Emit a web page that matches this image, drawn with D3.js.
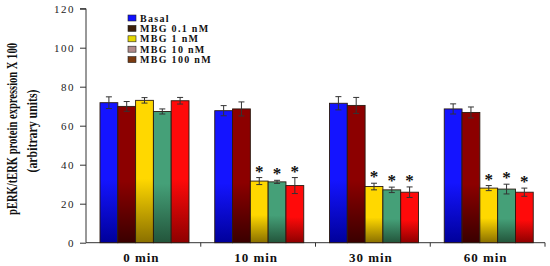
<!DOCTYPE html>
<html>
<head>
<meta charset="utf-8">
<script src="https://cdn.jsdelivr.net/npm/d3@7"></script>
<style>
  body { margin: 0; background: #fff; }
  svg { display: block; }
</style>
</head>
<body>
<svg id="chart"></svg>
<script>
// data
const groups = ['0 min', '10 min', '30 min', '60 min'];
const series = ['Basal', 'MBG 0.1 nM', 'MBG 1 nM', 'MBG 10 nM', 'MBG 100 nM'];
const basal   = [71.8, 67.7, 71.5, 68.6];
const mbg01   = [69.9, 68.6, 70.4, 66.8];
const mbg1    = [73.0, 31.6, 28.8, 28.0];
const mbg10   = [67.3, 31.2, 27.1, 27.5];
const mbg100  = [72.8, 29.3, 25.9, 25.9];
const errBasal  = [3.0, 2.6, 3.4, 2.6];
const errMbg01  = [2.5, 3.6, 4.1, 2.8];
const errMbg1   = [1.4, 1.8, 1.7, 1.3];
const errMbg10  = [1.3, 0.8, 1.4, 2.5];
const errMbg100 = [1.7, 4.1, 2.7, 2.1];
const significant = [
  [false, false, false, false, false],
  [false, false, true, true, true],
  [false, false, true, true, true],
  [false, false, true, true, true]
];
const yTicks = [0, 20, 40, 60, 80, 100, 120];

const values = [basal, mbg01, mbg1, mbg10, mbg100];
const errors = [errBasal, errMbg01, errMbg1, errMbg10, errMbg100];

const width = 550, height = 266;
const svg = d3.select('#chart').attr('width', width).attr('height', height);

// gradients for the bar fills
const barGrad = [
  ['#1414ff', '#00009a'],
  ['#8c0000', '#3a0000'],
  ['#ffd800', '#8a7000'],
  ['#45a078', '#23553b'],
  ['#ff0a0a', '#8e0000']
];
const legendColor = ['#1010ff', '#3b1e08', '#e4d600', '#b08a8a', '#7a3a10'];

const defs = svg.append('defs');
barGrad.forEach((c, i) => {
  const g = defs.append('linearGradient')
    .attr('id', 'grad' + i)
    .attr('x1', 0).attr('y1', 0).attr('x2', 0).attr('y2', 1);
  g.append('stop').attr('offset', '0%').attr('stop-color', c[0]);
  g.append('stop').attr('offset', '55%').attr('stop-color', c[0]);
  g.append('stop').attr('offset', '100%').attr('stop-color', c[1]);
});

const yScale = d3.scaleLinear().domain([0, 120]).range([242.7, 8.7]);
const x0 = d3.scaleBand().domain(groups).range([86, 545]);
const x1 = d3.scaleBand().domain(series).range([14, 103]);

// y axis
const yAxis = d3.axisLeft(yScale).tickValues(yTicks).tickSize(6).tickPadding(5);
const yAxisG = svg.append('g')
  .attr('transform', 'translate(86,0)')
  .call(yAxis);
yAxisG.select('.domain').attr('stroke', '#333').attr('d', `M-6,${yScale(120)}H0V${yScale(0)}`);
yAxisG.selectAll('.tick line').attr('stroke', '#333');
yAxisG.selectAll('.tick text')
  .attr('font-family', 'Liberation Serif, serif')
  .attr('font-size', 11)
  .attr('letter-spacing', 1.5)
  .attr('fill', '#222');

// x axis
const xAxisG = svg.append('g').attr('transform', `translate(0,${yScale(0)})`);
xAxisG.append('line')
  .attr('x1', 86).attr('x2', 545)
  .attr('stroke', '#333');
xAxisG.selectAll('.gtick')
  .data(groups)
  .join('line')
  .attr('class', 'gtick')
  .attr('x1', d => x0(d) + x0.bandwidth())
  .attr('x2', d => x0(d) + x0.bandwidth())
  .attr('y1', 0).attr('y2', 4)
  .attr('stroke', '#333');
xAxisG.selectAll('.glabel')
  .data(groups)
  .join('text')
  .attr('class', 'glabel')
  .attr('x', d => x0(d) + x0.bandwidth() / 2 - 2)
  .attr('y', 19)
  .attr('text-anchor', 'middle')
  .attr('font-family', 'Liberation Serif, serif')
  .attr('font-weight', 'bold')
  .attr('font-size', 13)
  .attr('letter-spacing', 1)
  .attr('fill', '#111')
  .text(d => d);

// bars
const flat = [];
groups.forEach((g, gi) => {
  series.forEach((s, si) => {
    flat.push({g, s, si, v: values[si][gi], e: errors[si][gi], sig: significant[gi][si]});
  });
});

const chart = svg.append('g');
chart.selectAll('.bar')
  .data(flat)
  .join('rect')
  .attr('class', 'bar')
  .attr('x', d => x0(d.g) + x1(d.s))
  .attr('y', d => yScale(d.v))
  .attr('width', x1.bandwidth())
  .attr('height', d => yScale(0) - yScale(d.v))
  .attr('fill', d => `url(#grad${d.si})`)
  .attr('stroke', '#2a1a10')
  .attr('stroke-width', 0.9);

// error bars
const err = chart.selectAll('.err')
  .data(flat)
  .join('g')
  .attr('class', 'err')
  .attr('stroke', '#333')
  .attr('stroke-width', 1);
err.append('line')
  .attr('x1', d => x0(d.g) + x1(d.s) + x1.bandwidth() / 2)
  .attr('x2', d => x0(d.g) + x1(d.s) + x1.bandwidth() / 2)
  .attr('y1', d => yScale(d.v + d.e))
  .attr('y2', d => yScale(d.v - d.e));
[1, -1].forEach(sign => {
  err.append('line')
    .attr('x1', d => x0(d.g) + x1(d.s) + x1.bandwidth() / 2 - 3)
    .attr('x2', d => x0(d.g) + x1(d.s) + x1.bandwidth() / 2 + 3)
    .attr('y1', d => yScale(d.v + sign * d.e))
    .attr('y2', d => yScale(d.v + sign * d.e));
});

// significance stars
chart.selectAll('.star')
  .data(flat.filter(d => d.sig))
  .join('text')
  .attr('class', 'star')
  .attr('x', d => x0(d.g) + x1(d.s) + x1.bandwidth() / 2)
  .attr('y', d => yScale(d.v + d.e) - 1)
  .attr('text-anchor', 'middle')
  .attr('font-family', 'Liberation Serif, serif')
  .attr('font-weight', 'bold')
  .attr('font-size', 17)
  .attr('fill', '#111')
  .text('*');

// legend
const legend = svg.append('g').attr('transform', 'translate(128,18)');
const item = legend.selectAll('.item')
  .data(series)
  .join('g')
  .attr('class', 'item')
  .attr('transform', (d, i) => `translate(0,${i * 10.4})`);
item.append('rect')
  .attr('x', 0).attr('y', -3)
  .attr('width', 8).attr('height', 6)
  .attr('fill', (d, i) => legendColor[i])
  .attr('stroke', '#222')
  .attr('stroke-width', 0.6);
item.append('text')
  .attr('x', 12).attr('y', 3.5)
  .attr('font-family', 'Liberation Serif, serif')
  .attr('font-weight', 'bold')
  .attr('font-size', 10)
  .attr('letter-spacing', 1.3)
  .attr('fill', '#111')
  .text(d => d);

// y title, squeezed along its length to look condensed
const title = svg.append('g').attr('font-family', 'Liberation Serif, serif')
  .attr('font-weight', 'bold').attr('fill', '#111').attr('font-size', 14.5);
[
  {text: 'pERK/tERK protein expression X 100', x: 17, y: 129, len: 172},
  {text: '(arbitrary units)', x: 37, y: 131, len: 83}
].forEach(t => {
  const el = title.append('text')
    .attr('text-anchor', 'middle')
    .text(t.text);
  const k = t.len / el.node().getComputedTextLength();
  el.attr('transform', `translate(${t.x},${t.y}) rotate(-90) scale(${k},1)`);
});
</script>
</body>
</html>
